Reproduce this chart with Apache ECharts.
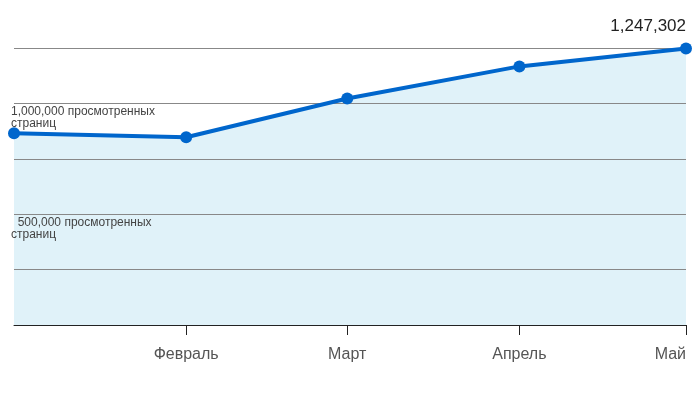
<!DOCTYPE html>
<html><head><meta charset="utf-8">
<script src="https://cdn.jsdelivr.net/npm/echarts@6/dist/echarts.min.js"></script>
<style>html,body{margin:0;padding:0;background:#fff}#c{width:700px;height:394px}</style>
</head><body><div id="c"></div>
<script>
const dates = ['2020-01-01','2020-02-01','2020-03-01','2020-04-01','2020-05-01'];
const views = [865000, 847000, 1022000, 1167000, 1247302];
const monthTicks = ['2020-02-01','2020-03-01','2020-04-01','2020-05-01'];
const monthNames = ['Февраль','Март','Апрель','Май'];
const yTicks = [500000, 1000000];
const yTickLabels = ['  500,000 просмотренных\nстраниц', '1,000,000 просмотренных\nстраниц'];

const FONT = 'Arial, Liberation Sans, sans-serif';
const ts = d => Date.parse(d + 'T00:00:00Z');
const tickTs = monthTicks.map(ts);
const points = dates.map((d, i) => [ts(d), views[i]]);
const lineData = points.map((p, i) => {
  const item = { value: p };
  if (i === points.length - 1) {
    item.label = {
      show: true, position: 'top', align: 'right', distance: 8,
      formatter: q => q.value[1].toLocaleString('en-US'),
      fontSize: 17, color: '#222', fontFamily: FONT
    };
  }
  return item;
});

const chart = echarts.init(document.getElementById('c'));
chart.setOption({
  animation: false,
  grid: { left: 14, right: 14, top: 48, bottom: 69 },
  xAxis: {
    type: 'value', min: ts(dates[0]), max: ts(dates[dates.length - 1]),
    z: 4,
    axisLine: { lineStyle: { color: '#222', width: 1 } },
    axisTick: { show: true, customValues: tickTs, length: 10, lineStyle: { color: '#222' } },
    axisLabel: {
      customValues: tickTs, margin: 22, color: '#555', fontSize: 16,
      fontFamily: FONT, alignMaxLabel: 'right',
      formatter: v => { const i = tickTs.indexOf(v); return i >= 0 ? monthNames[i] : ''; }
    },
    splitLine: { show: false }
  },
  yAxis: {
    type: 'value', min: 0, max: 1250000, interval: 250000,
    z: 2,
    axisLine: { show: false }, axisTick: { show: false },
    splitLine: { lineStyle: { color: '#888', width: 1 } },
    axisLabel: {
      customValues: yTicks, align: 'left', verticalAlign: 'top', margin: 3,
      fontSize: 12, lineHeight: 12, color: '#444', padding: [2, 0, 0, 0],
      fontFamily: FONT,
      formatter: v => { const i = yTicks.indexOf(v); return i >= 0 ? yTickLabels[i] : ''; }
    }
  },
  series: [{
    type: 'line', data: points, z: 1,
    symbol: 'none', lineStyle: { width: 0, opacity: 0 },
    areaStyle: { color: '#e0f2f9', opacity: 1 }, silent: true
  }, {
    type: 'line', data: lineData, z: 3,
    lineStyle: { color: '#0066cc', width: 4 },
    itemStyle: { color: '#0066cc' },
    symbol: 'circle', symbolSize: 12
  }]
});
</script></body></html>
